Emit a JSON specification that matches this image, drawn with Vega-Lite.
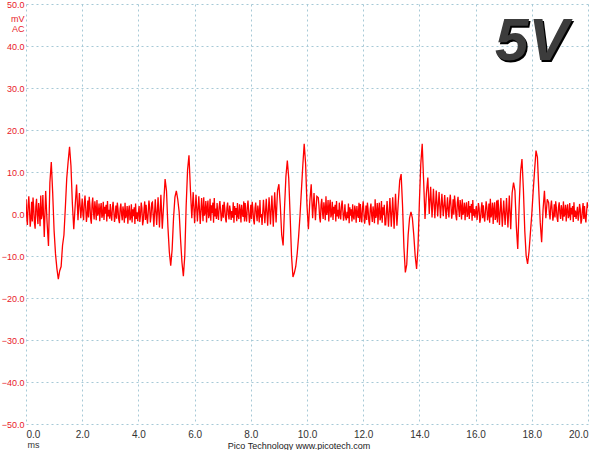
{
"$schema":"https://vega.github.io/schema/vega-lite/v6.json",
"width":562,"height":420,
"autosize":{"type":"none"},
"padding":{"left":26,"top":4,"right":12,"bottom":26},
"background":"white",
"config":{"view":{"stroke":null},"font":"Liberation Sans"},
"title":{"text":"Pico Technology  www.picotech.com","orient":"bottom","anchor":"middle","fontSize":9,"fontWeight":"normal","color":"#222","font":"Liberation Sans","offset":-7,"dx":-8},
"data":{"values":[
{"t":0.000,"v":3.5},{"t":0.025,"v":-0.6},{"t":0.050,"v":-2.6},{"t":0.075,"v":2.1},{"t":0.100,"v":4.2},{"t":0.125,"v":0.8},{"t":0.150,"v":-3.0},{"t":0.175,"v":-1.1},{"t":0.200,"v":2.9},{"t":0.225,"v":-1.8},{"t":0.250,"v":3.9},{"t":0.275,"v":1.5},{"t":0.300,"v":-2.1},{"t":0.325,"v":-3.5},{"t":0.350,"v":1.8},{"t":0.375,"v":3.6},{"t":0.400,"v":-0.3},{"t":0.425,"v":-2.4},{"t":0.450,"v":2.6},{"t":0.475,"v":0.6},{"t":0.500,"v":-2.9},{"t":0.525,"v":4.4},{"t":0.550,"v":-1.2},{"t":0.575,"v":-0.2},
{"t":0.60,"v":4.5},{"t":0.65,"v":-5.5},{"t":0.70,"v":5.5},{"t":0.75,"v":-2.0},{"t":0.80,"v":-7.6},{"t":0.85,"v":7.5},{"t":0.90,"v":12.4},{"t":0.95,"v":5.0},
{"t":1.00,"v":-4.0},{"t":1.05,"v":-9.5},{"t":1.10,"v":-13.0},{"t":1.15,"v":-15.5},{"t":1.20,"v":-13.5},{"t":1.25,"v":-12.5},{"t":1.30,"v":-7.5},{"t":1.35,"v":-5.0},{"t":1.40,"v":1.5},{"t":1.45,"v":8.5},{"t":1.50,"v":12.5},{"t":1.55,"v":16.0},{"t":1.60,"v":11.5},{"t":1.65,"v":2.5},{"t":1.70,"v":-3.6},{"t":1.75,"v":2.0},{"t":1.80,"v":7.0},{"t":1.85,"v":-1.5},{"t":1.90,"v":5.0},{"t":1.95,"v":-1.0},
{"t":2.000,"v":3.7},{"t":2.025,"v":0.2},{"t":2.050,"v":-1.5},{"t":2.075,"v":2.6},{"t":2.100,"v":4.4},{"t":2.125,"v":1.4},{"t":2.150,"v":-1.9},{"t":2.175,"v":-0.2},{"t":2.200,"v":3.2},{"t":2.225,"v":-0.8},{"t":2.250,"v":4.1},{"t":2.275,"v":2.0},{"t":2.300,"v":-1.1},{"t":2.325,"v":-2.3},{"t":2.350,"v":2.3},{"t":2.375,"v":3.9},{"t":2.400,"v":0.5},{"t":2.425,"v":-1.3},{"t":2.450,"v":3.0},{"t":2.475,"v":1.3},
{"t":2.500,"v":-1.5},{"t":2.525,"v":3.3},{"t":2.550,"v":-0.4},{"t":2.575,"v":0.3},{"t":2.600,"v":2.5},{"t":2.625,"v":-1.7},{"t":2.650,"v":1.2},{"t":2.675,"v":2.6},{"t":2.700,"v":-0.9},{"t":2.725,"v":-0.2},{"t":2.750,"v":2.9},{"t":2.775,"v":-1.4},{"t":2.800,"v":1.7},{"t":2.825,"v":0.1},{"t":2.850,"v":2.2},{"t":2.875,"v":-1.8},{"t":2.900,"v":3.1},{"t":2.925,"v":-0.6},{"t":2.950,"v":1.0},{"t":2.975,"v":-1.1},
{"t":3.000,"v":2.4},{"t":3.025,"v":-0.3},{"t":3.050,"v":-1.6},{"t":3.075,"v":1.5},{"t":3.100,"v":2.9},{"t":3.125,"v":0.6},{"t":3.150,"v":-1.9},{"t":3.175,"v":-0.6},{"t":3.200,"v":2.0},{"t":3.225,"v":-1.1},{"t":3.250,"v":2.7},{"t":3.275,"v":1.1},{"t":3.300,"v":-1.3},{"t":3.325,"v":-2.2},{"t":3.350,"v":1.3},{"t":3.375,"v":2.5},{"t":3.400,"v":-0.1},{"t":3.425,"v":-1.5},{"t":3.450,"v":1.8},{"t":3.475,"v":0.5},
{"t":3.500,"v":-2.1},{"t":3.525,"v":2.7},{"t":3.550,"v":-1.0},{"t":3.575,"v":-0.3},{"t":3.600,"v":1.9},{"t":3.625,"v":-2.3},{"t":3.650,"v":0.6},{"t":3.675,"v":2.0},{"t":3.700,"v":-1.5},{"t":3.725,"v":-0.8},{"t":3.750,"v":2.3},{"t":3.775,"v":-2.0},{"t":3.800,"v":1.1},{"t":3.825,"v":-0.5},{"t":3.850,"v":1.6},{"t":3.875,"v":-2.4},{"t":3.900,"v":2.5},{"t":3.925,"v":-1.2},{"t":3.950,"v":0.4},{"t":3.975,"v":-1.7},
{"t":4.000,"v":0.4},{"t":4.025,"v":1.9},{"t":4.050,"v":-1.9},{"t":4.075,"v":-0.3},{"t":4.100,"v":2.7},{"t":4.125,"v":1.4},{"t":4.150,"v":-2.7},{"t":4.175,"v":-1.6},{"t":4.200,"v":1.1},{"t":4.225,"v":3.0},{"t":4.250,"v":-1.4},{"t":4.275,"v":2.2},{"t":4.300,"v":-0.8},{"t":4.325,"v":-2.3},{"t":4.350,"v":0.5},{"t":4.375,"v":3.2},{"t":4.400,"v":1.6},{"t":4.425,"v":-2.0},{"t":4.450,"v":-0.5},{"t":4.475,"v":2.6},
{"t":4.50,"v":2.8},{"t":4.55,"v":-3.0},{"t":4.60,"v":3.5},{"t":4.65,"v":-2.6},{"t":4.70,"v":4.0},{"t":4.75,"v":-3.2},{"t":4.80,"v":4.6},{"t":4.85,"v":-3.5},{"t":4.90,"v":2.5},{"t":4.95,"v":8.3},
{"t":5.00,"v":5.5},{"t":5.05,"v":-3.0},{"t":5.10,"v":-9.0},{"t":5.15,"v":-12.3},{"t":5.20,"v":-8.5},{"t":5.25,"v":-1.0},{"t":5.30,"v":4.0},{"t":5.35,"v":5.5},{"t":5.40,"v":3.5},{"t":5.45,"v":0.5},{"t":5.50,"v":-6.0},{"t":5.55,"v":-11.5},{"t":5.60,"v":-14.8},{"t":5.65,"v":-10.0},{"t":5.70,"v":2.0},{"t":5.75,"v":10.5},{"t":5.80,"v":14.0},{"t":5.85,"v":6.0},{"t":5.90,"v":-1.0},{"t":5.95,"v":5.2},
{"t":6.00,"v":-2.2},{"t":6.05,"v":4.6},{"t":6.10,"v":-1.8},{"t":6.15,"v":4.2},{"t":6.20,"v":-2.4},{"t":6.25,"v":3.8},
{"t":6.300,"v":-1.7},{"t":6.325,"v":4.0},{"t":6.350,"v":-0.4},{"t":6.375,"v":0.4},{"t":6.400,"v":3.1},{"t":6.425,"v":-2.0},{"t":6.450,"v":1.5},{"t":6.475,"v":3.2},{"t":6.500,"v":-1.0},{"t":6.525,"v":-0.2},{"t":6.550,"v":3.6},{"t":6.575,"v":-1.6},{"t":6.600,"v":2.1},{"t":6.625,"v":0.2},{"t":6.650,"v":2.7},{"t":6.675,"v":-2.1},{"t":6.700,"v":3.8},{"t":6.725,"v":-0.6},{"t":6.750,"v":1.3},{"t":6.775,"v":-1.2},
{"t":6.800,"v":2.6},{"t":6.825,"v":-0.1},{"t":6.850,"v":-1.4},{"t":6.875,"v":1.7},{"t":6.900,"v":3.1},{"t":6.925,"v":0.8},{"t":6.950,"v":-1.7},{"t":6.975,"v":-0.4},{"t":7.000,"v":2.2},{"t":7.025,"v":-0.9},{"t":7.050,"v":2.9},{"t":7.075,"v":1.3},{"t":7.100,"v":-1.1},{"t":7.125,"v":-2.0},{"t":7.150,"v":1.5},{"t":7.175,"v":2.7},{"t":7.200,"v":0.1},{"t":7.225,"v":-1.3},{"t":7.250,"v":2.0},{"t":7.275,"v":0.7},
{"t":7.300,"v":-1.4},{"t":7.325,"v":0.7},{"t":7.350,"v":-0.9},{"t":7.375,"v":2.8},{"t":7.400,"v":-2.1},{"t":7.425,"v":1.9},{"t":7.450,"v":-0.2},{"t":7.475,"v":1.4},{"t":7.500,"v":-1.7},{"t":7.525,"v":2.6},{"t":7.550,"v":-0.5},{"t":7.575,"v":-1.2},{"t":7.600,"v":2.3},{"t":7.625,"v":0.9},{"t":7.650,"v":-2.0},{"t":7.675,"v":2.2},{"t":7.700,"v":0.0},{"t":7.725,"v":-0.7},{"t":7.750,"v":3.0},{"t":7.775,"v":-1.8},
{"t":7.800,"v":2.6},{"t":7.825,"v":-0.4},{"t":7.850,"v":-1.8},{"t":7.875,"v":1.6},{"t":7.900,"v":3.2},{"t":7.925,"v":0.6},{"t":7.950,"v":-2.1},{"t":7.975,"v":-0.7},{"t":8.000,"v":2.2},{"t":8.025,"v":-1.2},{"t":8.050,"v":2.9},{"t":8.075,"v":1.2},{"t":8.100,"v":-1.5},{"t":8.125,"v":-2.5},{"t":8.150,"v":1.4},{"t":8.175,"v":2.7},{"t":8.200,"v":-0.1},{"t":8.225,"v":-1.7},{"t":8.250,"v":2.0},{"t":8.275,"v":0.5},{"t":8.300,"v":-2.0},{"t":8.325,"v":3.3},{"t":8.350,"v":-0.8},{"t":8.375,"v":0.0},
{"t":8.40,"v":-2.6},{"t":8.45,"v":3.4},{"t":8.50,"v":-2.2},{"t":8.55,"v":3.6},{"t":8.60,"v":-2.8},{"t":8.65,"v":4.0},{"t":8.70,"v":-2.5},{"t":8.75,"v":4.4},{"t":8.80,"v":-3.0},{"t":8.85,"v":5.2},{"t":8.90,"v":-2.0},{"t":8.95,"v":5.5},
{"t":9.00,"v":7.1},{"t":9.05,"v":2.0},{"t":9.10,"v":-5.0},{"t":9.15,"v":-7.5},{"t":9.20,"v":1.5},{"t":9.25,"v":9.0},{"t":9.30,"v":12.7},{"t":9.35,"v":8.5},{"t":9.40,"v":-0.5},{"t":9.45,"v":-10.0},{"t":9.50,"v":-15.0},{"t":9.55,"v":-14.0},{"t":9.60,"v":-12.5},{"t":9.65,"v":-9.5},{"t":9.70,"v":-5.5},{"t":9.75,"v":-0.5},{"t":9.80,"v":5.5},{"t":9.85,"v":11.5},{"t":9.90,"v":16.7},{"t":9.95,"v":12.0},
{"t":10.00,"v":2.0},{"t":10.05,"v":-3.6},{"t":10.10,"v":3.0},{"t":10.15,"v":7.1},{"t":10.20,"v":-1.0},{"t":10.25,"v":5.0},{"t":10.30,"v":-1.5},{"t":10.35,"v":4.2},
{"t":10.400,"v":3.9},{"t":10.425,"v":2.0},{"t":10.450,"v":-0.9},{"t":10.475,"v":-2.0},{"t":10.500,"v":2.2},{"t":10.525,"v":3.6},{"t":10.550,"v":0.5},{"t":10.575,"v":-1.2},{"t":10.600,"v":2.8},{"t":10.625,"v":1.2},{"t":10.650,"v":-1.5},{"t":10.675,"v":4.2},{"t":10.700,"v":-0.2},{"t":10.725,"v":0.6},{"t":10.750,"v":3.3},{"t":10.775,"v":-1.8},{"t":10.800,"v":1.7},{"t":10.825,"v":3.4},{"t":10.850,"v":-0.8},{"t":10.875,"v":0.0},
{"t":10.900,"v":2.9},{"t":10.925,"v":-1.4},{"t":10.950,"v":1.7},{"t":10.975,"v":0.1},{"t":11.000,"v":2.2},{"t":11.025,"v":-1.8},{"t":11.050,"v":3.1},{"t":11.075,"v":-0.6},{"t":11.100,"v":1.0},{"t":11.125,"v":-1.1},{"t":11.150,"v":2.7},{"t":11.175,"v":0.0},{"t":11.200,"v":-1.3},{"t":11.225,"v":1.8},{"t":11.250,"v":3.2},{"t":11.275,"v":0.9},{"t":11.300,"v":-1.6},{"t":11.325,"v":-0.3},{"t":11.350,"v":2.3},{"t":11.375,"v":-0.8},
{"t":11.400,"v":-1.5},{"t":11.425,"v":0.5},{"t":11.450,"v":-1.0},{"t":11.475,"v":2.5},{"t":11.500,"v":-2.2},{"t":11.525,"v":1.6},{"t":11.550,"v":-0.4},{"t":11.575,"v":1.1},{"t":11.600,"v":-1.8},{"t":11.625,"v":2.3},{"t":11.650,"v":-0.7},{"t":11.675,"v":-1.3},{"t":11.700,"v":2.0},{"t":11.725,"v":0.7},{"t":11.750,"v":-2.1},{"t":11.775,"v":1.9},{"t":11.800,"v":-0.2},{"t":11.825,"v":-0.9},{"t":11.850,"v":2.7},{"t":11.875,"v":-1.9},
{"t":11.900,"v":2.4},{"t":11.925,"v":-0.6},{"t":11.950,"v":-2.0},{"t":11.975,"v":1.4},{"t":12.000,"v":3.0},{"t":12.025,"v":0.4},{"t":12.050,"v":-2.3},{"t":12.075,"v":-0.9},{"t":12.100,"v":2.0},{"t":12.125,"v":-1.4},{"t":12.150,"v":2.7},{"t":12.175,"v":1.0},{"t":12.200,"v":-1.7},{"t":12.225,"v":-2.7},{"t":12.250,"v":1.2},{"t":12.275,"v":2.5},{"t":12.300,"v":-0.3},{"t":12.325,"v":-1.9},{"t":12.350,"v":1.8},{"t":12.375,"v":0.3},
{"t":12.400,"v":-2.2},{"t":12.425,"v":3.5},{"t":12.450,"v":-0.9},{"t":12.475,"v":-0.1},{"t":12.500,"v":2.6},{"t":12.525,"v":-2.5},{"t":12.550,"v":1.0},{"t":12.575,"v":2.7},{"t":12.600,"v":-1.5},{"t":12.625,"v":-0.7},{"t":12.650,"v":3.1},{"t":12.675,"v":-2.1},{"t":12.700,"v":1.6},{"t":12.725,"v":-0.3},{"t":12.750,"v":2.2},{"t":12.775,"v":-2.6},
{"t":12.80,"v":-2.6},{"t":12.85,"v":3.1},{"t":12.90,"v":-3.0},{"t":12.95,"v":3.8},
{"t":13.00,"v":-3.0},{"t":13.05,"v":4.0},{"t":13.10,"v":-3.5},{"t":13.15,"v":4.8},{"t":13.20,"v":-2.8},{"t":13.25,"v":3.0},{"t":13.30,"v":8.0},{"t":13.35,"v":9.5},{"t":13.40,"v":2.0},{"t":13.45,"v":-8.0},{"t":13.50,"v":-13.9},{"t":13.55,"v":-12.0},{"t":13.60,"v":-5.0},{"t":13.65,"v":-1.0},{"t":13.70,"v":0.5},{"t":13.75,"v":-1.0},{"t":13.80,"v":-5.0},{"t":13.85,"v":-10.0},{"t":13.90,"v":-13.1},{"t":13.95,"v":-8.0},
{"t":14.00,"v":3.0},{"t":14.05,"v":12.0},{"t":14.10,"v":16.7},{"t":14.15,"v":8.0},{"t":14.20,"v":-1.2},{"t":14.25,"v":5.0},{"t":14.30,"v":8.7},{"t":14.35,"v":0.0},{"t":14.40,"v":6.5},{"t":14.45,"v":-0.8},{"t":14.50,"v":6.0},{"t":14.55,"v":-1.0},{"t":14.60,"v":5.6},{"t":14.65,"v":-0.6},{"t":14.70,"v":5.2},{"t":14.75,"v":-1.0},{"t":14.80,"v":4.8},{"t":14.85,"v":-0.5},{"t":14.90,"v":4.5},{"t":14.95,"v":-1.2},
{"t":15.000,"v":4.0},{"t":15.025,"v":0.8},{"t":15.050,"v":-0.8},{"t":15.075,"v":2.9},{"t":15.100,"v":4.6},{"t":15.125,"v":1.9},{"t":15.150,"v":-1.1},{"t":15.175,"v":0.4},{"t":15.200,"v":3.5},{"t":15.225,"v":-0.2},{"t":15.250,"v":4.4},{"t":15.275,"v":2.5},{"t":15.300,"v":-0.4},{"t":15.325,"v":-1.5},{"t":15.350,"v":2.7},{"t":15.375,"v":4.1},{"t":15.400,"v":1.0},{"t":15.425,"v":-0.7},{"t":15.450,"v":3.3},{"t":15.475,"v":1.7},
{"t":15.500,"v":-1.3},{"t":15.525,"v":3.5},{"t":15.550,"v":-0.2},{"t":15.575,"v":0.5},{"t":15.600,"v":2.7},{"t":15.625,"v":-1.5},{"t":15.650,"v":1.4},{"t":15.675,"v":2.8},{"t":15.700,"v":-0.7},{"t":15.725,"v":0.0},{"t":15.750,"v":3.1},{"t":15.775,"v":-1.2},{"t":15.800,"v":1.9},{"t":15.825,"v":0.3},{"t":15.850,"v":2.4},{"t":15.875,"v":-1.6},{"t":15.900,"v":3.3},{"t":15.925,"v":-0.4},{"t":15.950,"v":1.2},{"t":15.975,"v":-0.9},
{"t":16.000,"v":0.6},{"t":16.025,"v":1.9},{"t":16.050,"v":-1.4},{"t":16.075,"v":0.0},{"t":16.100,"v":2.6},{"t":16.125,"v":1.4},{"t":16.150,"v":-2.1},{"t":16.175,"v":-1.2},{"t":16.200,"v":1.2},{"t":16.225,"v":2.8},{"t":16.250,"v":-1.0},{"t":16.275,"v":2.1},{"t":16.300,"v":-0.5},{"t":16.325,"v":-1.8},{"t":16.350,"v":0.7},{"t":16.375,"v":3.0},{"t":16.400,"v":1.6},{"t":16.425,"v":-1.5},{"t":16.450,"v":-0.2},{"t":16.475,"v":2.5},
{"t":16.500,"v":-2.1},{"t":16.525,"v":3.6},{"t":16.550,"v":-0.8},{"t":16.575,"v":0.0},{"t":16.600,"v":2.7},{"t":16.625,"v":-2.4},{"t":16.650,"v":1.1},{"t":16.675,"v":2.8},{"t":16.700,"v":-1.4},{"t":16.725,"v":-0.6},{"t":16.750,"v":3.2},{"t":16.775,"v":-2.0},
{"t":16.80,"v":3.4},{"t":16.85,"v":-2.6},{"t":16.90,"v":3.8},{"t":16.95,"v":-3.0},
{"t":17.00,"v":3.2},{"t":17.05,"v":-2.6},{"t":17.10,"v":3.8},{"t":17.15,"v":-3.2},{"t":17.20,"v":4.4},{"t":17.25,"v":-3.6},{"t":17.30,"v":5.0},{"t":17.35,"v":7.5},{"t":17.40,"v":5.5},{"t":17.45,"v":-3.0},{"t":17.50,"v":-8.3},{"t":17.55,"v":2.0},{"t":17.60,"v":10.0},{"t":17.65,"v":13.1},{"t":17.70,"v":6.0},{"t":17.75,"v":-4.0},{"t":17.80,"v":-10.0},{"t":17.85,"v":-11.9},{"t":17.90,"v":-9.0},{"t":17.95,"v":-4.5},
{"t":18.00,"v":0.0},{"t":18.05,"v":5.5},{"t":18.10,"v":10.5},{"t":18.15,"v":15.1},{"t":18.20,"v":13.5},{"t":18.25,"v":5.5},{"t":18.30,"v":-2.0},{"t":18.35,"v":-6.7},{"t":18.40,"v":1.0},{"t":18.45,"v":5.5},{"t":18.50,"v":-1.0},{"t":18.55,"v":3.5},
{"t":18.600,"v":2.7},{"t":18.625,"v":0.0},{"t":18.650,"v":-1.3},{"t":18.675,"v":1.8},{"t":18.700,"v":3.2},{"t":18.725,"v":0.9},{"t":18.750,"v":-1.6},{"t":18.775,"v":-0.3},{"t":18.800,"v":2.3},{"t":18.825,"v":-0.8},{"t":18.850,"v":3.0},{"t":18.875,"v":1.4},{"t":18.900,"v":-1.0},{"t":18.925,"v":-1.9},{"t":18.950,"v":1.6},{"t":18.975,"v":2.8},{"t":19.000,"v":0.2},{"t":19.025,"v":-1.2},{"t":19.050,"v":2.1},{"t":19.075,"v":0.8},
{"t":19.100,"v":-1.6},{"t":19.125,"v":3.0},{"t":19.150,"v":-0.6},{"t":19.175,"v":0.1},{"t":19.200,"v":2.2},{"t":19.225,"v":-1.8},{"t":19.250,"v":1.0},{"t":19.275,"v":2.3},{"t":19.300,"v":-1.0},{"t":19.325,"v":-0.4},{"t":19.350,"v":2.6},{"t":19.375,"v":-1.5},{"t":19.400,"v":1.5},{"t":19.425,"v":-0.1},{"t":19.450,"v":1.9},{"t":19.475,"v":-1.9},{"t":19.500,"v":2.8},{"t":19.525,"v":-0.7},{"t":19.550,"v":0.8},{"t":19.575,"v":-1.2},
{"t":19.600,"v":0.4},{"t":19.625,"v":1.7},{"t":19.650,"v":-1.6},{"t":19.675,"v":-0.2},{"t":19.700,"v":2.4},{"t":19.725,"v":1.2},{"t":19.750,"v":-2.3},{"t":19.775,"v":-1.4},{"t":19.800,"v":1.0},{"t":19.825,"v":2.6},{"t":19.850,"v":-1.2},{"t":19.875,"v":1.9},{"t":19.900,"v":-0.7},{"t":19.925,"v":-2.0},{"t":19.950,"v":0.5},{"t":19.975,"v":2.8},{"t":20.000,"v":1.4}
]},
"layer":[
{"mark":{"type":"line","color":"#ff0000","strokeWidth":1.3,"clip":true},
 "encoding":{
  "x":{"field":"t","type":"quantitative","scale":{"domain":[0,20],"nice":false,"zero":false},
   "axis":{"title":"ms","values":[0,2,4,6,8,10,12,14,16,18,20],"format":".1f","grid":true,"gridColor":"#a6c9d6","gridDash":[2,3],"gridWidth":1,"domain":false,"ticks":false,"tickSize":0,"labelColor":"#333333","labelFontSize":10,"labelPadding":5,"labelFont":"Liberation Sans","titleFont":"Liberation Sans","titleFontSize":9,"titleFontWeight":"normal","titleColor":"#333333","titleAnchor":"start","titleAlign":"left","titleBaseline":"top","titleX":1,"titleY":16}},
  "y":{"field":"v","type":"quantitative","scale":{"domain":[-50,50],"nice":false},
   "axis":{"title":["mV","AC"],"values":[-50,-40,-30,-20,-10,0,10,20,30,40,50],"format":".1f","grid":true,"gridColor":"#a6c9d6","gridDash":[2,3],"gridWidth":1,"domain":false,"ticks":false,"tickSize":0,"labelColor":"#e8202a","labelFontSize":9,"labelPadding":2,"labelFont":"Liberation Sans","titleFont":"Liberation Sans","titleFontSize":9,"titleFontWeight":"normal","titleColor":"#e8202a","titleAngle":0,"titleAlign":"right","titleBaseline":"top","titleX":-2,"titleY":10,"titleLineHeight":10}}
 }},
{"data":{"values":[{"label":"5V"}]},
 "mark":{"type":"text","font":"Liberation Sans","fontSize":60,"fontWeight":"bold","fontStyle":"italic","align":"center","baseline":"alphabetic","color":"#000000","dx":1.5,"dy":1.5},
 "encoding":{"x":{"datum":18.0,"type":"quantitative"},"y":{"datum":36.6,"type":"quantitative"},"text":{"field":"label"}}},
{"data":{"values":[{"label":"5V"}]},
 "mark":{"type":"text","font":"Liberation Sans","fontSize":60,"fontWeight":"bold","fontStyle":"italic","align":"center","baseline":"alphabetic","color":"#3c3c3c"},
 "encoding":{"x":{"datum":18.0,"type":"quantitative"},"y":{"datum":36.6,"type":"quantitative"},"text":{"field":"label"}}}
]
}
